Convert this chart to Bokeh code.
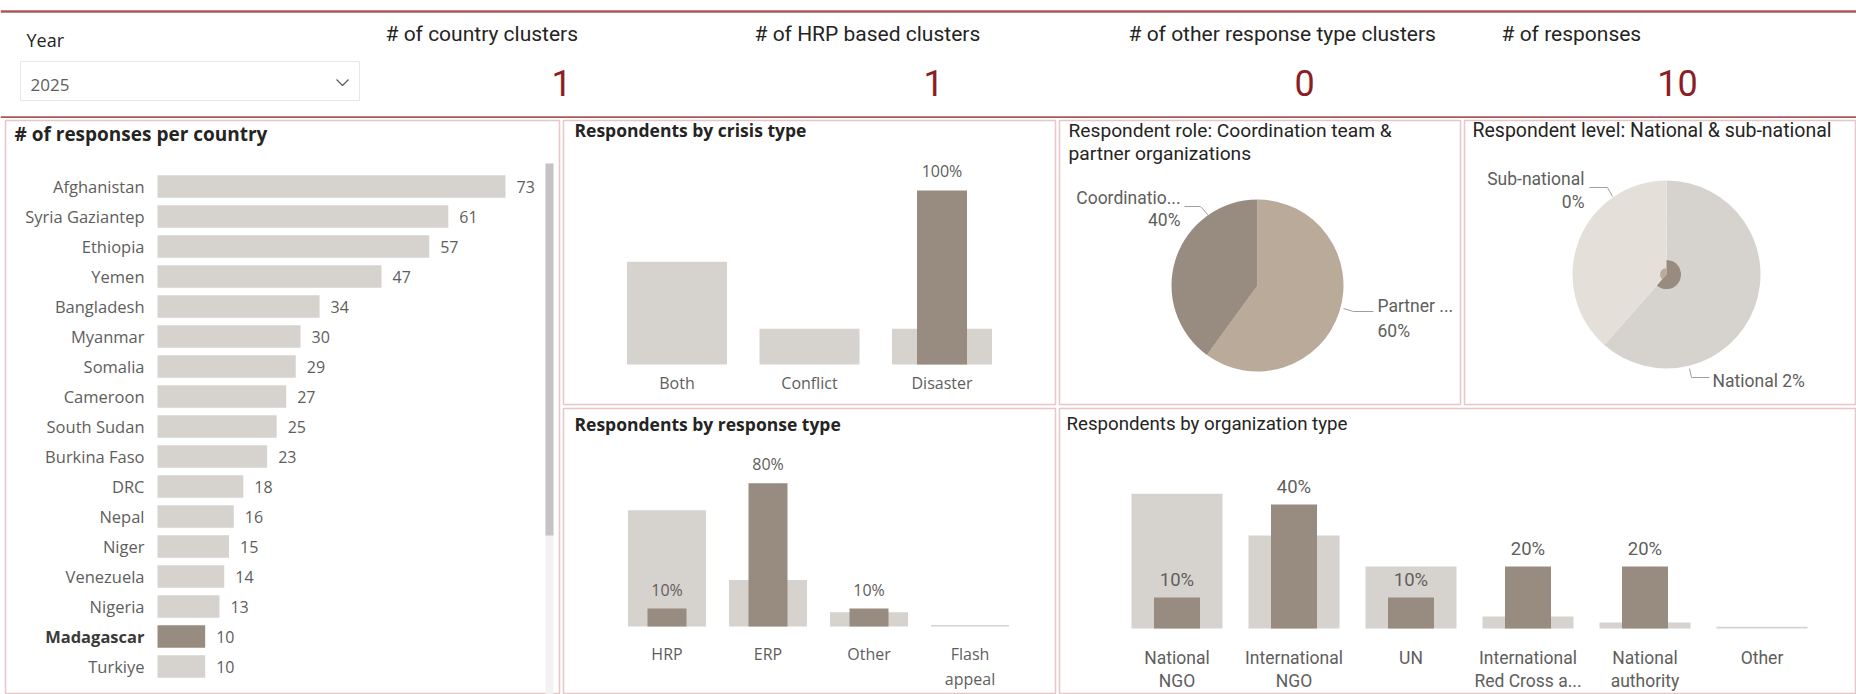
import math
from bokeh.plotting import figure
from bokeh.models import ColumnDataSource, Range1d, Label, Span
from bokeh.layouts import row, column
from bokeh.embed import file_html
from bokeh.resources import INLINE
from bokeh.core.properties import value

# ---------------- data ----------------
year_selected = "2025"
kpi_labels = ["# of country clusters", "# of HRP based clusters",
              "# of other response type clusters", "# of responses"]
kpi_values = [1, 1, 0, 10]

countries = ["Afghanistan", "Syria Gaziantep", "Ethiopia", "Yemen", "Bangladesh",
             "Myanmar", "Somalia", "Cameroon", "South Sudan", "Burkina Faso", "DRC",
             "Nepal", "Niger", "Venezuela", "Nigeria", "Madagascar", "Turkiye"]
responses = [73, 61, 57, 47, 34, 30, 29, 27, 25, 23, 18, 16, 15, 14, 13, 10, 10]
selected_country = "Madagascar"

crisis_types = ["Both", "Conflict", "Disaster"]
crisis_all_pct = [59, 20.5, 20.5]
crisis_sel_pct = [0, 0, 100]

response_types = ["HRP", "ERP", "Other", "Flash appeal"]
response_all_pct = [65, 26, 8, 0.8]
response_sel_pct = [10, 80, 10, 0]

org_types = ["National NGO", "International NGO", "UN",
             "International Red Cross a...", "National authority", "Other"]
org_all_pct = [43.5, 30, 20, 3.9, 1.9, 0.6]
org_sel_pct = [10, 40, 10, 20, 20, 0]

roles = ["Partner ...", "Coordinatio..."]
role_pct = [60, 40]

levels = ["National", "Sub-national"]
level_all_pct = [61.5, 38.5]
level_sel_pct = [2.4, 0.45]

# ---------------- style ----------------
UI = "Open Sans"
DIN = "Roboto"
LIGHT = "#d6d3cf"
DARK = "#988b80"
TAN = "#b9aa9a"
NAT_OUTER = "#d6d3ce"
SUB_OUTER = "#e4dfd8"
TITLE_C = "#252423"
LABEL_C = "#605e5c"
RED_LINE = "#a9585d"
KPI_C = "#8c1d25"
BORDER = "#e8c6c8"
LEADER_C = "#a19f9d"


def make_panel(w, h, x_range, y_range, mb=(2, 2, 2, 2)):
    l, r, t, b = mb
    p = figure(width=w, height=h, x_range=x_range, y_range=y_range,
               output_backend="svg", toolbar_location=None, tools="",
               x_axis_location=None, y_axis_location=None,
               min_border_left=l, min_border_right=r,
               min_border_top=t, min_border_bottom=b)
    p.grid.visible = False
    p.outline_line_color = BORDER
    p.outline_line_width = 1.5
    p.background_fill_color = "white"
    p.border_fill_color = "white"
    fw, fh = w - l - r, h - t - b
    p.extra_x_ranges = {"px": Range1d(0, fw)}
    p.extra_y_ranges = {"px": Range1d(fh, 0)}
    return p


def add_title(p, text, x, y, font, size, bold=False):
    p.add_layout(Label(x=x, y=y, x_range_name="px", y_range_name="px", text=text,
                       text_font=font, text_font_size=f"{size}px",
                       text_font_style="bold" if bold else "normal",
                       text_color=TITLE_C, text_baseline="middle", text_align="left"))


def bar_panel(w, h, mb, page_left, page_top, cats, all_pct, sel_pct, c0, step, base, ppp,
              lw, dw, lab_off, lab_step, val_off, font, fsize, vfont, vfsize,
              title, tx, ty, tfont, tsize, tbold):
    fw, fh = w - mb[0] - mb[1], h - mb[2] - mb[3]
    xs = (page_left - c0) / step
    xe = (page_left + fw - c0) / step
    ys = -(page_top + fh - base) / ppp
    ye = (base - page_top) / ppp
    p = make_panel(w, h, Range1d(xs, xe), Range1d(ys, ye), mb)
    idx = list(range(len(cats)))
    src = ColumnDataSource(dict(x=idx, a=all_pct, s=sel_pct))
    p.vbar(x="x", top="a", bottom=0, width=lw / step, fill_color=LIGHT,
           line_color=None, source=src)
    p.vbar(x="x", top="s", bottom=0, width=dw / step, fill_color=DARK,
           line_color=None, source=src)
    # category labels (wrapped at first space)
    lx, lt, lo = [], [], []
    for i, c in enumerate(cats):
        parts = c.split(" ", 1) if " " in c else [c]
        for k, part in enumerate(parts):
            lx.append(i)
            lt.append(part)
            lo.append(lab_off + k * lab_step)
    p.text(x="x", y=0, text="t", y_offset="o",
           source=ColumnDataSource(dict(x=lx, t=lt, o=lo)),
           text_font=value(font), text_font_size=f"{fsize}px", text_color=LABEL_C,
           text_align="center", text_baseline="middle")
    vx = [i for i, v in enumerate(sel_pct) if v > 0]
    vy = [sel_pct[i] for i in vx]
    vt = [f"{sel_pct[i]:.0f}%" for i in vx]
    p.text(x="x", y="y", text="t", y_offset=val_off,
           source=ColumnDataSource(dict(x=vx, y=vy, t=vt)),
           text_font=value(vfont), text_font_size=f"{vfsize}px", text_color=LABEL_C,
           text_align="center", text_baseline="middle")
    add_title(p, title, tx, ty, tfont, tsize, tbold)
    return p


# ---------------- header ----------------
HW, HH = 1856, 118
header = figure(width=HW, height=HH, x_range=Range1d(0, HW), y_range=Range1d(HH, 0),
                output_backend="svg", toolbar_location=None, tools="",
                x_axis_location=None, y_axis_location=None, min_border=0)
header.grid.visible = False
header.outline_line_color = None
header.add_layout(Span(location=11, dimension="width", line_color=RED_LINE, line_width=2.5))
header.add_layout(Span(location=117, dimension="width", line_color=RED_LINE, line_width=2.5))
header.text(x=[26], y=[39], text=["Year"], text_font=value(UI), text_font_size="18px",
            text_color=TITLE_C, text_baseline="middle")
header.quad(left=[20], right=[359], top=[61], bottom=[100], fill_color="white",
            line_color="#e6e6e6", line_width=1)
header.text(x=[30], y=[84], text=[year_selected], text_font=value(UI),
            text_font_size="17px", text_color=LABEL_C, text_baseline="middle")
header.line(x=[336, 342, 348], y=[79, 85, 79], line_color=LABEL_C, line_width=1.3)
kpi_lx = [385, 754, 1128, 1501]
kpi_vx = [561, 933, 1304, 1677]
header.text(x=kpi_lx, y=[33] * 4, text=kpi_labels, text_font=value(DIN),
            text_font_size="21px", text_color=TITLE_C, text_baseline="middle")
header.text(x=kpi_vx, y=[82] * 4, text=[str(v) for v in kpi_values], text_font=value(DIN),
            text_font_size="36px", text_color=KPI_C, text_baseline="middle",
            text_align="center")

# ---------------- left: responses per country ----------------
LWID, LHGT = 561, 576
LMB = (5, 2, 2, 0)
lfw, lfh = LWID - LMB[0] - LMB[1], LHGT - LMB[2] - LMB[3]
ppu = (505 - 157) / 73.0
bar_start = 157 - LMB[0]
left = make_panel(LWID, LHGT, Range1d(-bar_start / ppu, (lfw - bar_start) / ppu),
                  Range1d((lfh - 66) / 30.0, -66 / 30.0), LMB)
n = len(countries)
csrc = ColumnDataSource(dict(
    y=list(range(n)), v=responses, name=countries,
    vl=[str(v) for v in responses],
    c=[DARK if c == selected_country else LIGHT for c in countries],
    st=["bold" if c == selected_country else "normal" for c in countries],
    tc=["#3b3a39" if c == selected_country else LABEL_C for c in countries]))
left.hbar(y="y", left=0, right="v", height=0.745, fill_color="c", line_color=None,
          source=csrc)
left.text(x=0, y="y", text="name", x_offset=-13, text_align="right",
          text_baseline="middle", text_font=value(UI), text_font_size="16.5px",
          text_font_style="st", text_color="tc", source=csrc)
left.text(x="v", y="y", text="vl", x_offset=11, text_align="left",
          text_baseline="middle", text_font=value(UI), text_font_size="16px",
          text_color=LABEL_C, source=csrc)
left.quad(left=[540], right=[548], top=[43], bottom=[574], fill_color="#f2f2f2",
          line_color=None, x_range_name="px", y_range_name="px")
left.quad(left=[540], right=[548], top=[43], bottom=[415], fill_color="#c4c4c4",
          line_color=None, x_range_name="px", y_range_name="px")
add_title(left, "# of responses per country", 9, 13, UI, 19, True)

# ---------------- crisis type ----------------
crisis = bar_panel(496, 288, (2, 2, 2, 2), 563, 120, crisis_types, crisis_all_pct,
                   crisis_sel_pct, 676.5, 132.5, 364, 1.74, 100, 50, 18, 24, -20,
                   UI, 16, UI, 16, "Respondents by crisis type", 11, 9, UI, 17.5, True)

# ---------------- response type ----------------
resp = bar_panel(496, 288, (2, 2, 2, 0), 563, 408, response_types, response_all_pct,
                 response_sel_pct, 666.5, 101, 626, 1.79, 78, 39, 27, 25, -19,
                 UI, 16, UI, 16, "Respondents by response type", 11, 15, UI, 17.5, True)

# ---------------- organization type ----------------
org = bar_panel(799, 288, (2, 0, 2, 0), 1059, 408, org_types, org_all_pct, org_sel_pct,
                1176.5, 117, 628, 3.1, 91, 46, 29, 23, -18, DIN, 17.5, DIN, 18.5,
                "Respondents by organization type", 7, 15, DIN, 18.7, False)


# ---------------- pies ----------------
def pie_angles(pcts):
    cum = [0]
    for v in pcts:
        cum.append(cum[-1] + v / 100.0)
    start = [math.pi / 2 - 2 * math.pi * cum[i] for i in range(len(pcts))]
    end = [math.pi / 2 - 2 * math.pi * cum[i + 1] for i in range(len(pcts))]
    return start, end


def pie_panel(w, h, cx, cy, mb=(2, 2, 2, 2)):
    fw, fh = w - mb[0] - mb[1], h - mb[2] - mb[3]
    return make_panel(w, h, Range1d(-cx, fw - cx), Range1d(-(fh - cy), cy), mb)


# role pie
role = pie_panel(405, 288, 198, 165)
rs, re_ = pie_angles(role_pct)
role.wedge(x=0, y=0, radius=86, start_angle="s", end_angle="e", direction="clock",
           fill_color="c", line_color=None,
           source=ColumnDataSource(dict(s=rs, e=re_, c=[TAN, DARK])))
add_title(role, "Respondent role: Coordination team &", 9, 10, DIN, 19.2)
add_title(role, "partner organizations", 9, 33, DIN, 19.2)
role_lab = ColumnDataSource(dict(
    x=[318, 318, 121, 121], y=[185, 210, 77, 99],
    t=[roles[0], f"{role_pct[0]}%", roles[1], f"{role_pct[1]}%"],
    a=["left", "left", "right", "right"]))
role.text(x="x", y="y", text="t", text_align="a", text_baseline="middle",
          text_font=value(DIN), text_font_size="17.5px", text_color=LABEL_C,
          source=role_lab, x_range_name="px", y_range_name="px")
role.line(x=[284, 294, 314], y=[188, 191, 191], line_color=LEADER_C, line_width=1,
          x_range_name="px", y_range_name="px")
role.line(x=[125, 141, 149], y=[86, 86, 95], line_color=LEADER_C, line_width=1,
          x_range_name="px", y_range_name="px")

# level pie
level = pie_panel(394, 288, 202, 154, (2, 0, 2, 2))
R = 94
ls, le = pie_angles(level_all_pct)
level.wedge(x=0, y=0, radius=R, start_angle="s", end_angle="e", direction="clock",
            fill_color="c", line_color=None,
            source=ColumnDataSource(dict(s=ls, e=le, c=[NAT_OUTER, SUB_OUTER])))
level.wedge(x=0, y=0, radius="r", start_angle="s", end_angle="e", direction="clock",
            fill_color="c", line_color=None,
            source=ColumnDataSource(dict(
                s=ls, e=le, c=[DARK, TAN],
                r=[R * math.sqrt(v / 100.0) for v in level_sel_pct])))
add_title(level, "Respondent level: National & sub-national", 8, 10, DIN, 19.5)
level_lab = ColumnDataSource(dict(
    x=[248, 120, 120], y=[260, 58, 81],
    t=[f"{levels[0]} {level_sel_pct[0]:.0f}%", levels[1], f"{level_sel_pct[1]:.0f}%"],
    a=["left", "right", "right"]))
level.text(x="x", y="y", text="t", text_align="a", text_baseline="middle",
           text_font=value(DIN), text_font_size="17.5px", text_color=LABEL_C,
           source=level_lab, x_range_name="px", y_range_name="px")
level.line(x=[225, 227, 245], y=[248, 257, 257], line_color=LEADER_C, line_width=1,
           x_range_name="px", y_range_name="px")
level.line(x=[125, 143, 148], y=[67, 67, 76], line_color=LEADER_C, line_width=1,
           x_range_name="px", y_range_name="px")

# ---------------- layout ----------------
layout = column(header,
                row(left, column(row(crisis, role, level), row(resp, org))))
open("out.html", "w").write(file_html(layout, INLINE))
